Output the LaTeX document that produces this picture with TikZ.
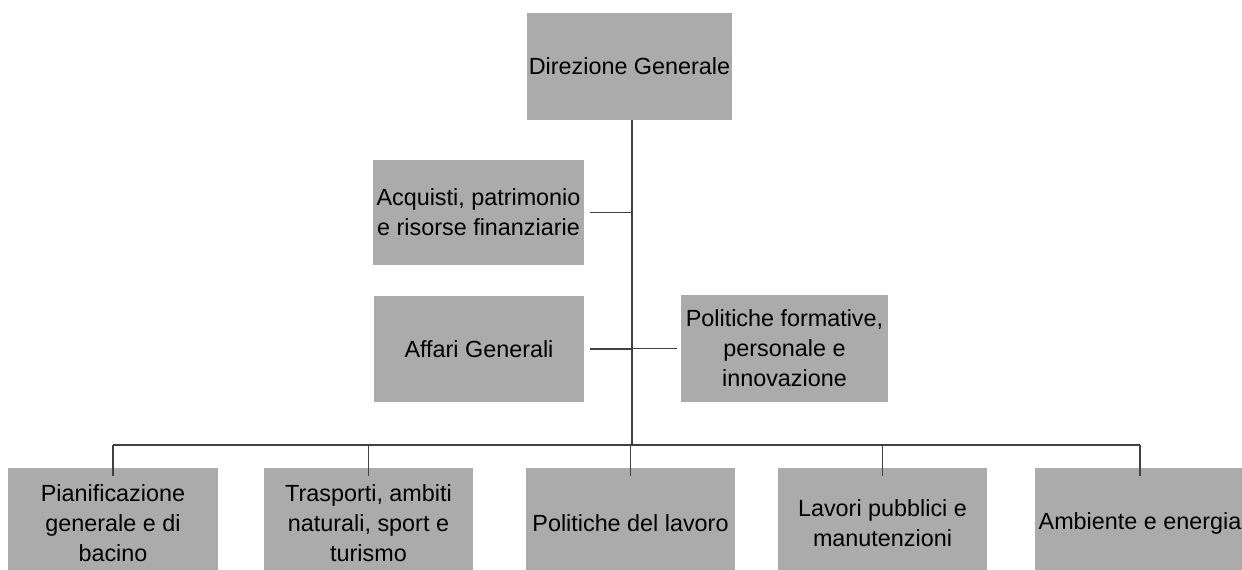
\documentclass[tikz,border=0pt]{standalone}
\usepackage{fontspec}
\setmainfont{Liberation Sans}
\usepackage{xcolor}
\usepackage{tikz}

\begin{document}
\begin{tikzpicture}[x=0.02cm,y=-0.02cm,
    ufficio/.style={fill=black!33, inner sep=0pt, align=center,
      font=\fontsize{13.3}{17}\selectfont},
    linea/.style={draw=black!75, line width=0.9pt}]
        % Cornice
        \useasboundingbox (0,0) rectangle (1242,569);
        \clip (0,0) rectangle (1242,569);

        % Direzione
        \node[ufficio, minimum width=4.1cm, minimum height=2.14cm]
          (dg) at (629.5,66.5) {Direzione Generale};

        % Staff
        \node[ufficio, minimum width=4.22cm, minimum height=2.1cm]
          (acq) at (478.5,212.5) {Acquisti, patrimonio\\e risorse finanziarie};
        \node[ufficio, minimum width=4.2cm, minimum height=2.12cm]
          (aff) at (479,349) {Affari Generali};
        \node[ufficio, minimum width=4.14cm, minimum height=2.14cm]
          (pol) at (784.5,348.5) {Politiche formative,\\personale e\\innovazione};

        % Aree
        \node[ufficio, minimum width=4.2cm, minimum height=2.2cm]
          (pian) at (113,523) {Pianificazione\\generale e di\\bacino};
        \node[ufficio, minimum width=4.2cm, minimum height=2.2cm]
          (trasp) at (368.5,523) {Trasporti, ambiti\\naturali, sport e\\turismo};
        \node[ufficio, minimum width=4.2cm, minimum height=2.2cm]
          (lav) at (630.5,523) {Politiche del lavoro};
        \node[ufficio, minimum width=4.2cm, minimum height=2.2cm]
          (lpub) at (882.5,523) {Lavori pubblici e\\manutenzioni};
        \node[ufficio, minimum width=4.2cm, minimum height=2.2cm]
          (amb) at (1140,523) {Ambiente e energia};

        % Tronco e barra
        \coordinate (bus) at (632,445);
        \draw[linea] (dg.south -| bus) -- (bus);
        \draw[linea] (pian.north |- bus) -- (amb.north |- bus);

        % Rami staff
        \draw[linea] ([xshift=3]acq.east) -- (acq.east -| bus);
        \draw[linea] ([xshift=3]aff.east) -- (aff.east -| bus);
        \draw[linea] ([xshift=-2]pol.west) -- (pol.west -| bus);

        % Rami aree
        \foreach \area in {pian,trasp,lav,lpub,amb}
          \draw[linea] (\area.north |- bus) -- ([yshift=-5]\area.north);
      \end{tikzpicture}
\end{document}
